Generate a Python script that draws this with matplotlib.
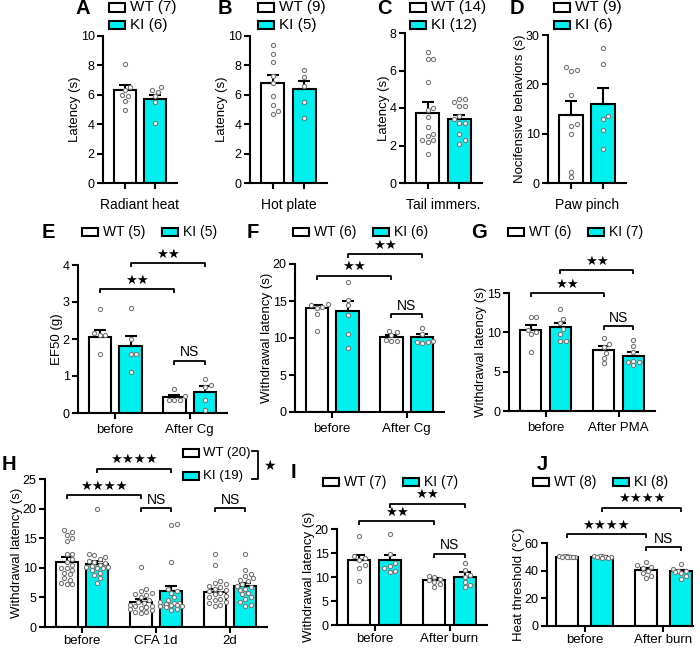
import matplotlib
matplotlib.use('Agg')
import matplotlib.pyplot as plt
from matplotlib.patches import Rectangle
from matplotlib.lines import Line2D
import numpy as np

plt.rcParams['font.family'] = ['Liberation Sans', 'DejaVu Sans']

W, H = 700, 648
fig = plt.figure(figsize=(7, 6.48), dpi=100)
CYAN = '#00F0F0'
PT_COLOR = '#777777'

# ---------------- data ----------------
# A: Radiant heat
a_groups = ['Radiant heat']
a_wt_mean, a_wt_sem = [6.3], [0.35]
a_ki_mean, a_ki_sem = [5.7], [0.3]
a_wt_pts = [[8.1, 6.5, 6.3, 6.0, 5.9, 5.6, 5.0]]
a_ki_pts = [[6.5, 6.3, 6.2, 5.9, 5.5, 4.1]]
a_legend = ['WT (7)', 'KI (6)']

# B: Hot plate
b_groups = ['Hot plate']
b_wt_mean, b_wt_sem = [6.8], [0.55]
b_ki_mean, b_ki_sem = [6.4], [0.55]
b_wt_pts = [[9.4, 8.8, 8.2, 7.3, 6.8, 5.9, 5.3, 4.9, 4.7]]
b_ki_pts = [[7.7, 7.2, 6.6, 5.5, 4.4]]
b_legend = ['WT (9)', 'KI (5)']

# C: Tail immersion
c_groups = ['Tail immers.']
c_wt_mean, c_wt_sem = [3.75], [0.55]
c_ki_mean, c_ki_sem = [3.4], [0.25]
c_wt_pts = [[7.0, 6.6, 6.6, 5.4, 4.0, 3.9, 3.5, 3.0, 2.6, 2.5, 2.3, 2.3, 2.2, 1.55]]
c_ki_pts = [[4.5, 4.5, 4.3, 4.1, 4.1, 3.6, 3.4, 3.2, 3.2, 2.6, 2.3, 2.1]]
c_legend = ['WT (14)', 'KI (12)']

# D: Paw pinch
d_groups = ['Paw pinch']
d_wt_mean, d_wt_sem = [13.8], [2.8]
d_ki_mean, d_ki_sem = [16.0], [3.2]
d_wt_pts = [[23.5, 23.0, 22.8, 17.8, 11.9, 11.5, 9.9, 2.3, 1.2]]
d_ki_pts = [[27.3, 24.1, 13.5, 13.0, 10.7, 6.8]]
d_legend = ['WT (9)', 'KI (6)']

# E: EF50
e_groups = ['before', 'After Cg']
e_wt_mean, e_wt_sem = [2.05, 0.44], [0.2, 0.05]
e_ki_mean, e_ki_sem = [1.82, 0.58], [0.27, 0.15]
e_wt_pts = [[2.8, 2.15, 2.1, 2.1, 1.6], [0.65, 0.45, 0.36, 0.35, 0.35]]
e_ki_pts = [[2.85, 2.0, 1.6, 1.6, 1.1], [0.92, 0.75, 0.7, 0.34, 0.07]]
e_legend = ['WT (5)', 'KI (5)']

# F: withdrawal latency, Cg
f_groups = ['before', 'After Cg']
f_wt_mean, f_wt_sem = [14.0, 10.15], [0.5, 0.3]
f_ki_mean, f_ki_sem = [13.6, 10.1], [1.4, 0.45]
f_wt_pts = [[14.6, 14.5, 14.2, 14.0, 13.2, 11.0], [11.0, 10.8, 10.4, 9.7, 9.6, 9.6]]
f_ki_pts = [[17.6, 15.2, 14.5, 13.1, 10.6, 8.7], [11.4, 10.6, 9.6, 9.4, 9.4, 9.3]]
f_legend = ['WT (6)', 'KI (6)']

# G: withdrawal latency, PMA
g_groups = ['before', 'After PMA']
g_wt_mean, g_wt_sem = [10.3, 7.75], [0.65, 0.5]
g_ki_mean, g_ki_sem = [10.65, 7.0], [0.6, 0.45]
g_wt_pts = [[11.9, 11.9, 10.3, 10.0, 9.8, 7.5], [9.3, 8.5, 8.1, 7.4, 6.8, 6.1]]
g_ki_pts = [[13.0, 11.7, 11.2, 10.4, 9.8, 8.9, 8.9], [9.0, 8.3, 7.5, 6.4, 6.2, 6.2, 5.8]]
g_legend = ['WT (6)', 'KI (7)']

# H: CFA
h_groups = ['before', 'CFA 1d', '2d']
h_wt_mean, h_wt_sem = [11.0, 4.25, 5.95], [0.75, 0.45, 0.55]
h_ki_mean, h_ki_sem = [10.65, 6.05, 6.9], [0.55, 0.95, 0.55]
h_wt_pts = [[16.4, 16.0, 15.6, 15.0, 14.6, 12.4, 12.3, 11.5, 11.0, 10.5, 10.0, 10.0, 9.6, 9.2, 8.9, 8.3, 8.0, 7.5, 7.3, 7.2],
            [10.2, 6.4, 6.0, 5.8, 5.5, 5.4, 5.0, 4.6, 4.3, 4.0, 3.8, 3.6, 3.5, 3.3, 3.2, 3.0, 2.8, 2.6, 2.5, 2.3],
            [12.3, 10.5, 7.7, 7.5, 7.2, 7.0, 6.8, 6.5, 6.2, 6.0, 5.8, 5.5, 5.2, 5.0, 4.8, 4.5, 4.2, 4.0, 3.8, 3.6]]
h_ki_pts = [[20.0, 12.3, 12.1, 11.8, 11.5, 11.2, 11.0, 10.8, 10.5, 10.3, 10.2, 10.2, 10.0, 10.0, 9.6, 9.2, 8.8, 8.3, 7.5],
            [17.4, 17.2, 10.9, 6.5, 6.0, 5.8, 5.0, 4.5, 4.2, 4.0, 4.0, 3.9, 3.8, 3.8, 3.6, 3.5, 3.3, 3.1, 2.9],
            [12.3, 9.7, 9.0, 8.6, 8.3, 8.0, 7.7, 7.3, 7.0, 6.8, 6.5, 6.2, 5.8, 5.5, 5.0, 4.8, 4.2, 3.8, 3.6]]
h_legend = ['WT (20)', 'KI (19)']

# I: burn, withdrawal latency
i_groups = ['before', 'After burn']
i_wt_mean, i_wt_sem = [13.45, 9.3], [1.1, 0.55]
i_ki_mean, i_ki_sem = [13.45, 10.1], [1.1, 1.0]
i_wt_pts = [[18.6, 14.3, 13.9, 13.5, 12.5, 11.8, 9.1], [10.3, 10.0, 9.6, 9.3, 9.0, 8.5, 7.9]]
i_ki_pts = [[18.9, 14.8, 13.0, 12.3, 11.8, 11.2, 11.0], [13.0, 11.5, 10.5, 10.0, 9.0, 8.3, 8.0]]
i_legend = ['WT (7)', 'KI (7)']

# J: burn, heat threshold
j_groups = ['before', 'After burn']
j_wt_mean, j_wt_sem = [50.2, 40.3], [0.3, 1.5]
j_ki_mean, j_ki_sem = [49.9, 39.6], [0.4, 1.2]
j_wt_pts = [[50.6, 50.4, 50.3, 50.2, 50.1, 50.0, 49.9, 49.8], [46.0, 44.0, 43.0, 42.0, 40.0, 38.0, 36.0, 35.0]]
j_ki_pts = [[50.8, 50.5, 50.3, 50.0, 49.8, 49.6, 49.4, 49.2], [45.0, 41.0, 40.0, 40.0, 39.0, 38.0, 36.0, 34.0]]
j_legend = ['WT (8)', 'KI (8)']


# ---------------- helpers ----------------
def swarm(vals, ppy, ppx, maxoff, d=5.0):
    """Deterministic beeswarm offsets (in data x units), kept within maxoff pixels."""
    ys = np.asarray(vals, float) * ppy
    order = np.argsort(ys)
    placed = []
    offs = np.zeros(len(ys))
    step = d * 0.55
    nsteps = int(maxoff // step)
    cands = [0.0]
    for k in range(1, nsteps + 1):
        cands += [k * step, -k * step]
    for i in order:
        y = ys[i]
        best, bestd = None, -1
        for c in cands:
            md = min([np.hypot(c - px, y - py) for px, py in placed] + [1e9])
            if md >= d * 0.95:
                best = c
                break
            if md > bestd:
                bestd, best = md, c
        offs[i] = best
        placed.append((best, y))
    return offs / ppx


def make_panel(box, ymax, yticks, groups, wtm, wts, kim, kis, wtp, kip,
               ylabel, xlim=None, off=0.205, bw=0.3, single=False, xpad=4):
    x0, x1, ytop, ybot = box
    ax = fig.add_axes([x0 / W, 1 - ybot / H, (x1 - x0) / W, (ybot - ytop) / H])
    n = len(groups)
    if xlim is None:
        xlim = (-0.5, n - 0.5)
    ax.set_xlim(*xlim)
    ax.set_ylim(0, ymax)
    ppy = (ybot - ytop) / ymax
    ppx = (x1 - x0) / (xlim[1] - xlim[0])
    maxoff = bw / 2 * ppx
    xs = np.arange(n)
    z = np.zeros(n)
    for pos, m, s, pts, fc in [(xs - off, wtm, wts, wtp, 'white'), (xs + off, kim, kis, kip, CYAN)]:
        ax.bar(pos, m, width=bw, facecolor=fc, edgecolor='black', linewidth=1.5, zorder=2)
        ax.errorbar(pos, m, yerr=[z, s], fmt='none', ecolor='black', elinewidth=1.5,
                    capsize=4.5, capthick=1.5, zorder=3)
        for p, vals in zip(pos, pts):
            ox = swarm(vals, ppy, ppx, maxoff)
            ax.scatter(p + ox, vals, s=9, facecolor='white', edgecolor=PT_COLOR,
                       linewidth=0.8, zorder=4, clip_on=False)
    for sp in ['top', 'right']:
        ax.spines[sp].set_visible(False)
    for sp in ['left', 'bottom']:
        ax.spines[sp].set_linewidth(1.5)
    ax.set_yticks(yticks)
    ax.tick_params(axis='both', direction='out', length=4, width=1.5, labelsize=9, pad=2)
    if single:
        ax.set_xticks(np.concatenate([xs - off, xs + off]))
        ax.set_xticklabels([])
        ax.set_xlabel(groups[0], fontsize=10, labelpad=5)
    else:
        ax.set_xticks(xs)
        ax.set_xticklabels(groups, fontsize=9.5)
        ax.tick_params(axis='x', pad=xpad)
    ax.set_ylabel(ylabel, fontsize=9.5, labelpad=0)
    ax._ppy = ppy
    ax._off = off
    return ax


STAR_FS = 9.5


def bracket(ax, xa, xb, y, text, drop_px=4, gap_px=8.5):
    ppy = ax._ppy
    drop = drop_px / ppy
    ax.plot([xa, xa, xb, xb], [y - drop, y, y, y - drop], color='black', lw=1.3,
            clip_on=False, solid_capstyle='butt', zorder=5)
    if text == 'NS':
        ax.text((xa + xb) / 2, y + gap_px / ppy, 'NS', ha='center', va='center',
                fontsize=10, clip_on=False)
    else:
        ax.text((xa + xb) / 2, y + (gap_px + 0.5) / ppy, text, ha='center', va='center',
                fontsize=STAR_FS, family='DejaVu Sans', clip_on=False)


def fx(x):
    return x / W


def fy(y):
    return 1 - y / H


def legend_item(x, y, label, color, fs=10.5, bwid=16, bh=8.5, tgap=5):
    fig.patches.append(Rectangle((fx(x), fy(y + bh / 2)), bwid / W, bh / H,
                                 transform=fig.transFigure, facecolor=color,
                                 edgecolor='black', linewidth=1.5))
    fig.text(fx(x + bwid + tgap), fy(y), label, fontsize=fs, va='center', ha='left')


def letter(x, y, s):
    fig.text(fx(x), fy(y), s, fontsize=14.5, fontweight='bold', va='center', ha='left')


# ---------------- panels ----------------
axA = make_panel((103, 177, 36, 183), 10, [0, 2, 4, 6, 8, 10], a_groups, a_wt_mean, a_wt_sem,
                 a_ki_mean, a_ki_sem, a_wt_pts, a_ki_pts, 'Latency (s)', single=True)
axB = make_panel((250, 327, 36, 183), 10, [0, 2, 4, 6, 8, 10], b_groups, b_wt_mean, b_wt_sem,
                 b_ki_mean, b_ki_sem, b_wt_pts, b_ki_pts, 'Latency (s)', single=True)
axC = make_panel((405, 482, 33, 183), 8, [0, 2, 4, 6, 8], c_groups, c_wt_mean, c_wt_sem,
                 c_ki_mean, c_ki_sem, c_wt_pts, c_ki_pts, 'Latency (s)', single=True)
axD = make_panel((548, 626, 35, 183), 30, [0, 10, 20, 30], d_groups, d_wt_mean, d_wt_sem,
                 d_ki_mean, d_ki_sem, d_wt_pts, d_ki_pts, 'Nocifensive behaviors (s)', single=True)

for (lx, bx, lets, leg) in [(75, 109, 'A', a_legend), (218, 258, 'B', b_legend),
                            (377, 410, 'C', c_legend), (510, 554, 'D', d_legend)]:
    letter(lx, 9, lets)
    legend_item(bx, 7.5, leg[0], 'white', fs=11)
    legend_item(bx, 25, leg[1], CYAN, fs=11)

axE = make_panel((78, 227, 265, 413), 4, [0, 1, 2, 3, 4], e_groups, e_wt_mean, e_wt_sem,
                 e_ki_mean, e_ki_sem, e_wt_pts, e_ki_pts, 'EF50 (g)')
axF = make_panel((295, 444, 264, 412), 20, [0, 5, 10, 15, 20], f_groups, f_wt_mean, f_wt_sem,
                 f_ki_mean, f_ki_sem, f_wt_pts, f_ki_pts, 'Withdrawal latency (s)')
axG = make_panel((509, 655, 293, 411), 15, [0, 5, 10, 15], g_groups, g_wt_mean, g_wt_sem,
                 g_ki_mean, g_ki_sem, g_wt_pts, g_ki_pts, 'Withdrawal latency (s)')
axH = make_panel((45, 267, 479, 627), 25, [0, 5, 10, 15, 20, 25], h_groups, h_wt_mean, h_wt_sem,
                 h_ki_mean, h_ki_sem, h_wt_pts, h_ki_pts, 'Withdrawal latency (s)', xpad=1.5)
axI = make_panel((337, 487, 529, 625), 20, [0, 5, 10, 15, 20], i_groups, i_wt_mean, i_wt_sem,
                 i_ki_mean, i_ki_sem, i_wt_pts, i_ki_pts, 'Withdrawal latency (s)', xpad=2)
axJ = make_panel((547, 693, 543, 626), 60, [0, 20, 40, 60], j_groups, j_wt_mean, j_wt_sem,
                 j_ki_mean, j_ki_sem, j_wt_pts, j_ki_pts, 'Heat threshold (\u00b0C)',
                 xlim=(-0.48, 1.38), off=0.225, bw=0.28, xpad=2)

# significance brackets
S2, S4 = '\u2605\u2605', '\u2605\u2605\u2605\u2605'
for ax, lo, hi, ns, st in [(axE, 3.35, 4.05, 1.41, S2), (axF, 18.4, 21.3, 13.2, S2),
                           (axG, 15.0, 17.9, 10.8, S2), (axI, 21.6, 25.3, 14.8, S2),
                           (axJ, 66.2, 85.4, 57.1, S4)]:
    o = ax._off
    bracket(ax, -o, 1 - o, lo, st)
    bracket(ax, o, 1 + o, hi, st)
    bracket(ax, 1 - o, 1 + o, ns, 'NS')

o = axH._off
bracket(axH, -o, 1 - o, 22.3, S4)
bracket(axH, o, 1 + o, 26.7, S4)
bracket(axH, 1 - o, 1 + o, 20.1, 'NS')
bracket(axH, 2 - o, 2 + o, 20.1, 'NS')

# legends and letters for lower panels
letter(42, 232, 'E')
legend_item(82, 232, e_legend[0], 'white', fs=10)
legend_item(162, 232, e_legend[1], CYAN, fs=10)
letter(247, 232, 'F')
legend_item(293, 232, f_legend[0], 'white', fs=10)
legend_item(373, 232, f_legend[1], CYAN, fs=10)
letter(471, 232, 'G')
legend_item(508, 232, g_legend[0], 'white', fs=10)
legend_item(588, 232, g_legend[1], CYAN, fs=10)

letter(2, 465, 'H')
legend_item(183, 453, h_legend[0], 'white', fs=9.5, tgap=4)
legend_item(183, 476, h_legend[1], CYAN, fs=9.5, tgap=4)
fig.lines.append(Line2D([fx(252), fx(258), fx(258), fx(252)], [fy(451), fy(451), fy(479), fy(479)],
                        transform=fig.transFigure, color='black', lw=1.3))
fig.text(fx(263), fy(466), '\u2605', fontsize=10, family='DejaVu Sans', va='center', ha='left')

letter(291, 473, 'I')
legend_item(323, 482, i_legend[0], 'white', fs=10)
legend_item(403, 482, i_legend[1], CYAN, fs=10)
letter(537, 465, 'J')
legend_item(533, 482, j_legend[0], 'white', fs=10)
legend_item(613, 482, j_legend[1], CYAN, fs=10)

fig.savefig('out.png', dpi=100)
